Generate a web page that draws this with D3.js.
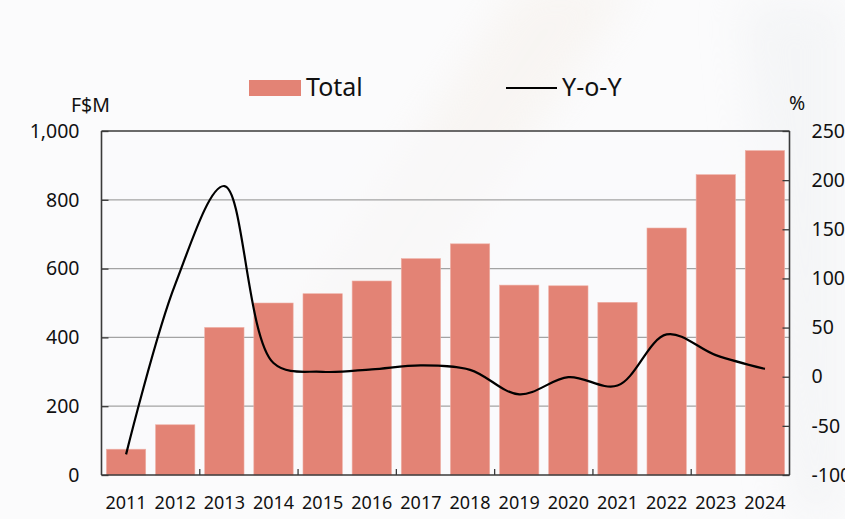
<!DOCTYPE html>
<html>
<head>
<meta charset="utf-8">
<script src="https://cdn.jsdelivr.net/npm/d3@7"></script>
<style>
  html, body { margin: 0; padding: 0; background: #fbfbfc; }
  svg { display: block; }
  text { font-family: "Noto Sans", "Open Sans", sans-serif; fill: #111; }
</style>
</head>
<body>
<svg id="chart" width="845" height="519"></svg>
<script>
// Annual totals (F$M) and year-on-year change (%)
const years = ["2011","2012","2013","2014","2015","2016","2017","2018","2019","2020","2021","2022","2023","2024"];
const totals = [75, 146, 429, 500, 527, 564, 629, 672, 552, 550, 502, 718, 873, 943];
const yoy = [-79, 94, 194, 14, 5, 7.5, 11.5, 7, -18, -0.5, -9, 43, 22, 8];
const leftTicks = [0, 200, 400, 600, 800, 1000];
const rightTicks = [-100, -50, 0, 50, 100, 150, 200, 250];

const svg = d3.select("#chart");
const W = 845, H = 519;
const plot = { left: 101.5, right: 789.5, top: 131, bottom: 475 };

// soft background wash
const defs = svg.append("defs");
defs.append("filter").attr("id", "soft").attr("x", "-50%").attr("y", "-50%").attr("width", "200%").attr("height", "200%")
  .append("feGaussianBlur").attr("stdDeviation", 20);
const bg = svg.append("g");
bg.append("rect").attr("width", W).attr("height", H).attr("fill", "#fbfbfc");
bg.append("path").attr("d", "M520,-20 L640,-20 L330,420 L230,420 Z").attr("fill", "#f4eee7").attr("opacity", 0.45).attr("filter", "url(#soft)");
bg.append("path").attr("d", "M740,0 L845,0 L845,519 L790,519 Z").attr("fill", "#eef0f2").attr("opacity", 0.5).attr("filter", "url(#soft)");

const x = d3.scaleBand().domain(years).range([plot.left, plot.right]).paddingInner(0.2).paddingOuter(0.1);
const yL = d3.scaleLinear().domain([0, 1000]).range([plot.bottom, plot.top]);
const yR = d3.scaleLinear().domain([-100, 250]).range([plot.bottom, plot.top]);
const step = (plot.right - plot.left) / years.length;

// plot area fill
svg.append("rect").attr("x", plot.left).attr("y", plot.top)
  .attr("width", plot.right - plot.left).attr("height", plot.bottom - plot.top)
  .attr("fill", "#f9fafc").attr("opacity", 0.55);

// horizontal gridlines
svg.append("g").selectAll("line").data(leftTicks.filter(d => d > 0 && d < 1000)).join("line")
  .attr("x1", plot.left).attr("x2", plot.right)
  .attr("y1", d => yL(d)).attr("y2", d => yL(d))
  .attr("stroke", "#a3a3a3").attr("stroke-width", 1.2);

// bars
svg.append("g").selectAll("rect").data(years).join("rect")
  .attr("x", d => x(d)).attr("width", x.bandwidth())
  .attr("y", (d, i) => yL(totals[i])).attr("height", (d, i) => yL(0) - yL(totals[i]))
  .attr("fill", "#e38375").attr("stroke", "#eeb0a6").attr("stroke-width", 0.6);

// frame
const frame = svg.append("g").attr("stroke", "#3a3a3a").attr("fill", "none");
frame.append("line").attr("x1", plot.left).attr("x2", plot.right).attr("y1", plot.top).attr("y2", plot.top).attr("stroke-width", 1.3);
frame.append("line").attr("x1", plot.left).attr("x2", plot.right).attr("y1", plot.bottom).attr("y2", plot.bottom).attr("stroke-width", 1.6);
frame.append("line").attr("x1", plot.left).attr("x2", plot.left).attr("y1", plot.top).attr("y2", plot.bottom).attr("stroke-width", 1.6);
frame.append("line").attr("x1", plot.right).attr("x2", plot.right).attr("y1", plot.top).attr("y2", plot.bottom).attr("stroke-width", 1.6);

// left axis
const axL = svg.append("g").attr("transform", `translate(${plot.left},0)`)
  .call(d3.axisLeft(yL).tickValues(leftTicks).tickSize(-7).tickPadding(22).tickFormat(d3.format(",")));
axL.select(".domain").remove();
axL.selectAll("line").attr("stroke", "#3a3a3a").attr("stroke-width", 1.3);
axL.selectAll("text").attr("font-size", 19.5).attr("fill", "#111").style("font-family", null);

// right axis
const axR = svg.append("g").attr("transform", `translate(${plot.right},0)`)
  .call(d3.axisRight(yR).tickValues(rightTicks).tickSize(-7).tickPadding(22).tickFormat(d => String(d)));
axR.select(".domain").remove();
axR.selectAll("line").attr("stroke", "#3a3a3a").attr("stroke-width", 1.3);
axR.selectAll("text").attr("font-size", 19.5).attr("fill", "#111").style("font-family", null);

// bottom axis: tick marks every second year boundary, labels under each year
const boundaries = d3.range(2, years.length, 2);
svg.append("g").selectAll("line").data(boundaries).join("line")
  .attr("x1", k => plot.left + k * step).attr("x2", k => plot.left + k * step)
  .attr("y1", plot.bottom).attr("y2", plot.bottom - 6)
  .attr("stroke", "#3a3a3a").attr("stroke-width", 1.3);
svg.append("g").selectAll("text").data(years).join("text")
  .attr("x", d => x(d) + x.bandwidth() / 2).attr("y", 509)
  .attr("text-anchor", "middle").attr("font-size", 18)
  .text(d => d);

// Y-o-Y line
const line = d3.line()
  .x((d, i) => x(years[i]) + x.bandwidth() / 2)
  .y(d => yR(d))
  .curve(d3.curveCatmullRom.alpha(0.5));
svg.append("path").datum(yoy).attr("d", line)
  .attr("fill", "none").attr("stroke", "#000").attr("stroke-width", 2.2);

// axis units
svg.append("text").attr("x", 71).attr("y", 112).attr("font-size", 19.5).text("F$M");
svg.append("text").attr("x", 789).attr("y", 110).attr("font-size", 19.5).text("%");

// legend
const lg = svg.append("g");
lg.append("rect").attr("x", 249).attr("y", 80).attr("width", 52).attr("height", 16).attr("fill", "#e38375");
lg.append("text").attr("x", 306).attr("y", 96).attr("font-size", 25).text("Total");
lg.append("line").attr("x1", 506).attr("x2", 557).attr("y1", 88).attr("y2", 88).attr("stroke", "#000").attr("stroke-width", 2);
lg.append("text").attr("x", 562).attr("y", 96).attr("font-size", 25).text("Y-o-Y");
</script>
</body>
</html>
